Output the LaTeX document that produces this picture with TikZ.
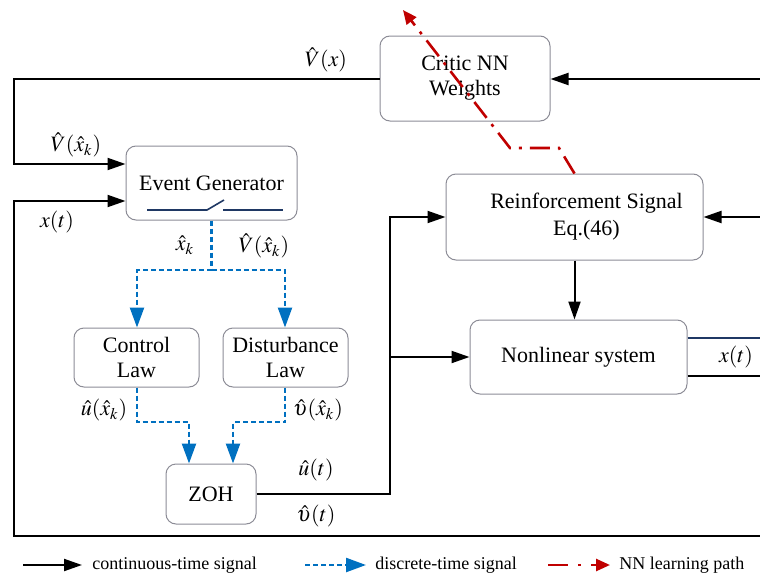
\documentclass[tikz,border=0pt]{standalone}
\usepackage{mathptmx}
\usepackage{fontspec}
\setmainfont{Liberation Serif}
\usetikzlibrary{arrows.meta}
\definecolor{boxgray}{HTML}{8C8C96}
\definecolor{dblue}{HTML}{0070C0}
\definecolor{dred}{HTML}{C00000}
\definecolor{navy}{HTML}{1F3864}
\tikzset{
  blk/.style={draw, rounded corners=5pt, line width=0.5pt, draw=boxgray, align=center, inner sep=0pt, font=\fontsize{11}{12.5}\selectfont},
  cont/.style={line width=1pt, -{Triangle[length=9pt,width=6pt]}},
  contline/.style={line width=1pt},
  disc/.style={line width=1.2pt, dblue, dash pattern=on 2.5pt off 1.5pt, -{Triangle[length=10pt,width=7pt]}},
  discline/.style={line width=1.2pt, dblue, dash pattern=on 2.5pt off 1.5pt},
  learn/.style={line width=1.3pt, dred, dash pattern=on 10pt off 4pt on 1.5pt off 4pt, -{Triangle[length=7pt,width=6pt]}},
  lbl/.style={inner sep=0pt, font=\fontsize{11}{13}\selectfont},
  leg/.style={inner sep=0pt, anchor=west, font=\fontsize{9}{11}\selectfont},
}
\begin{document}
\begin{tikzpicture}[x=0.5pt,y=-0.5pt]
\useasboundingbox (0,0) rectangle (760,578);
% blocks
\node[blk, minimum width=85pt, minimum height=42.5pt] (critic) at (465,78.5) {Critic NN\\Weights};
\node[blk, minimum width=85.5pt, minimum height=37pt] (event) at (211.5,183) {Event Generator};
\node[blk, minimum width=128.5pt, minimum height=43pt] (reinf) at (574.5,217) {\hspace*{12pt}Reinforcement Signal\\[1pt]\hspace*{12pt}Eq.(46)};
\node[blk, minimum width=108.5pt, minimum height=37pt] (plant) at (578.5,357) {Nonlinear system};
\node[blk, minimum width=62.5pt, minimum height=29.5pt] (ctrl) at (136.5,357.5) {Control\\Law};
\node[blk, minimum width=62.5pt, minimum height=29.5pt] (dist) at (285.5,357.5) {Disturbance\\Law};
\node[blk, minimum width=45pt, minimum height=30pt] (zoh) at (211,494) {ZOH};
% switch in event generator
\draw[navy, line width=0.8pt] (147,210) -- (207,210) -- (224,200);
\draw[navy, line width=0.8pt] (223,210) -- (283,210);
% coordinates for free ends
\coordinate (rtop) at (760,79);
\coordinate (rmid) at (760,217);
\coordinate (rup) at (760,338);
\coordinate (rlow) at (760,376);
\coordinate (lbot) at (760,536);
% V(x) path
\draw[cont] (rtop) -- (critic.east |- rtop);
\draw[cont] (critic.west |- rtop) -- (14,79) -- (14,164) -- (event.west |- 0,164);
% x(t) feedback
\draw[cont] (lbot) -- (14,536) -- (14,201) -- (event.west |- 0,201);
% discrete paths
\draw[discline] (event.south) -- (211.5,270) coordinate (split);
\draw[disc] (split) -- (137,270) -- (ctrl.north -| 137,0);
\draw[disc] (split) -- (285,270) -- (dist.north -| 285,0);
\draw[disc] (ctrl.south -| 137,0) -- (137,422) -- (189,422) -- (zoh.north -| 189,0);
\draw[disc] (dist.south -| 285,0) -- (285,422) -- (233,422) -- (zoh.north -| 233,0);
% ZOH to system
\draw[contline] (zoh.east) -- (390,494) -- (390,357);
\draw[cont] (390,357) -- (390,217) -- (reinf.west |- 0,217);
\draw[cont] (390,357) -- (plant.west);
\draw[cont] (rmid) -- (reinf.east |- rmid);
\draw[cont] (reinf.south) -- (reinf.south |- plant.north);
% plant outputs
\draw[navy, line width=0.6pt] (plant.east |- rup) -- (rup);
\draw[contline] (plant.east |- rlow) -- (rlow);
% learning path
\coordinate (ltip) at (403,10);
\draw[learn] (reinf.north) -- (559,148) -- (510,148) -- (ltip);
% labels
\node[lbl] (lVx) at (326,60) {$\hat{V}(x)$};
\node[lbl] (lVxk) at (76,145) {$\hat{V}(\hat{x}_k)$};
\node[lbl] (lxt) at (57,222) {$x(t)$};
\node[lbl] (lxk) at (185,245) {$\hat{x}_k$};
\node[lbl] (lVxk2) at (264,246) {$\hat{V}(\hat{x}_k)$};
\node[lbl] (lu) at (104,410) {$\hat{u}(\hat{x}_k)$};
\node[lbl] (lv) at (318,410) {$\hat{\upsilon}(\hat{x}_k)$};
\node[lbl] (lut) at (316,470) {$\hat{u}(t)$};
\node[lbl] (lvt) at (316,516) {$\hat{\upsilon}(t)$};
\node[lbl] (lxt2) at (736,357) {$x(t)$};
% legend
\coordinate (a1) at (23,565); \coordinate (a2) at (82,565);
\coordinate (b1) at (305,565); \coordinate (b2) at (366,565);
\coordinate (c1) at (548,565); \coordinate (c2) at (610,565);
\draw[cont] (a1) -- (a2);
\draw[disc] (b1) -- (b2);
\draw[learn, dash pattern=on 10pt off 5pt on 1.5pt off 5pt] (c1) -- (c2);
\node[leg] (t1) at (92,565) {continuous-time signal};
\node[leg] (t2) at (375,565) {discrete-time signal};
\node[leg] (t3) at (619,565) {NN learning path};
\end{tikzpicture}
\end{document}
